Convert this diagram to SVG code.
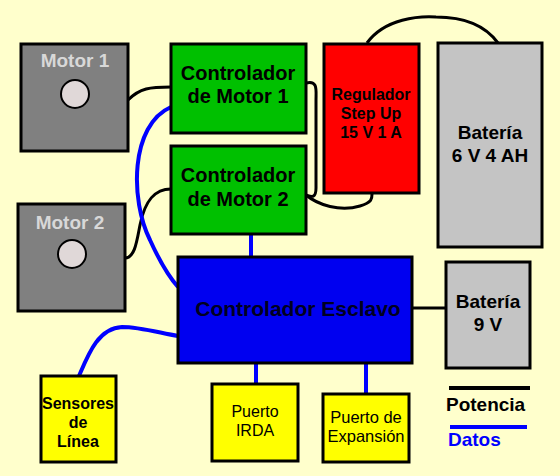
<svg xmlns="http://www.w3.org/2000/svg" width="560" height="476" viewBox="0 0 560 476">
<style>
.box{stroke:#000;stroke-width:3}
.t{font-family:"Liberation Sans",Arial,sans-serif;font-weight:bold;text-anchor:middle;fill:#000}
.r{font-weight:normal}
.pw{fill:none;stroke:#000;stroke-width:3}
.dt{fill:none;stroke:#0000FF;stroke-width:4}
</style>
<rect width="560" height="476" fill="#FFFFCC"/>
<g id="connectors">
<path class="pw" d="M128,100 C140,88 150,87 171,87"/>
<path class="pw" d="M125,258 C135,258 137,240 140,225 C145,200 155,189 171,189"/>
<path class="pw" d="M306,83 C318,80 316,90 316,100 L316,188 C316,200 310,196 306,195"/>
<path class="pw" d="M306,195 C318,205 340,212 360,206 C373,202 372,198 372,193"/>
<path class="pw" d="M367,43 C385,18 420,16 436,17 C465,17 485,25 498,43"/>
<path class="pw" d="M412,308 L446,308"/>
<path class="dt" d="M171,107 C130,125 130,200 150,240 C160,262 170,278 178,287"/>
<path class="dt" d="M79,376 C88,355 98,328 122,327 C140,327 160,333 178,336"/>
<path class="dt" d="M251,234 L251,257"/>
<path class="dt" d="M256,363 L256,384"/>
<path class="dt" d="M366,363 L366,394"/>
</g>
<g id="motor1">
<rect class="box" x="21" y="44" width="107" height="107" fill="#808080"/>
<text class="t" x="75" y="67" font-size="19" style="fill:#D8D8D8">Motor 1</text>
<circle cx="75" cy="94" r="14" fill="#E0D8D8" stroke="#000" stroke-width="2"/>
</g>
<g id="motor2">
<rect class="box" x="18" y="204" width="107" height="107" fill="#808080"/>
<text class="t" x="70" y="229" font-size="19" style="fill:#D8D8D8">Motor 2</text>
<circle cx="72" cy="254" r="14" fill="#E0D8D8" stroke="#000" stroke-width="2"/>
</g>
<g id="ctrl1">
<rect class="box" x="171" y="44" width="135" height="89" fill="#00C000"/>
<text class="t" x="238" y="80" font-size="20">Controlador</text>
<text class="t" x="238" y="103" font-size="20">de Motor 1</text>
</g>
<g id="ctrl2">
<rect class="box" x="171" y="146" width="135" height="88" fill="#00C000"/>
<text class="t" x="238" y="182" font-size="20">Controlador</text>
<text class="t" x="238" y="206" font-size="20">de Motor 2</text>
</g>
<g id="regulador">
<rect class="box" x="324" y="44" width="95" height="149" fill="#FF0000"/>
<text class="t" x="371" y="100" font-size="16">Regulador</text>
<text class="t" x="371" y="119" font-size="16">Step Up</text>
<text class="t" x="371" y="138" font-size="16">15 V 1 A</text>
</g>
<g id="bateria6">
<rect class="box" x="438" y="43" width="104" height="204" fill="#C4C4C4"/>
<text class="t" x="490" y="139" font-size="19">Batería</text>
<text class="t" x="490" y="162" font-size="19">6 V 4 AH</text>
</g>
<g id="esclavo">
<rect class="box" x="178" y="257" width="234" height="106" fill="#0000F0"/>
<text class="t" x="298" y="316" font-size="21" style="fill:#000020">Controlador Esclavo</text>
</g>
<g id="bateria9">
<rect class="box" x="446" y="262" width="84" height="106" fill="#C4C4C4"/>
<text class="t" x="488" y="308" font-size="19">Batería</text>
<text class="t" x="488" y="331" font-size="19">9 V</text>
</g>
<g id="sensores">
<rect class="box" x="41" y="376" width="75" height="86" fill="#FFFF00"/>
<text class="t" x="78" y="409" font-size="16">Sensores</text>
<text class="t" x="78" y="428" font-size="16">de</text>
<text class="t" x="78" y="447" font-size="16">Línea</text>
</g>
<g id="irda">
<rect class="box" x="212" y="384" width="86" height="77" fill="#FFFF00"/>
<text class="t r" x="255" y="417" font-size="16">Puerto</text>
<text class="t r" x="255" y="436" font-size="16">IRDA</text>
</g>
<g id="expansion">
<rect class="box" x="323" y="394" width="86" height="68" fill="#FFFF00"/>
<text class="t r" x="366" y="423" font-size="16.5">Puerto de</text>
<text class="t r" x="366" y="442" font-size="16.5">Expansión</text>
</g>
<g id="legend">
<line x1="449" y1="388" x2="530" y2="388" stroke="#000" stroke-width="4"/>
<text class="t" x="446" y="411" font-size="19" text-anchor="start" style="text-anchor:start">Potencia</text>
<line x1="450" y1="427" x2="527" y2="427" stroke="#0000FF" stroke-width="4"/>
<text class="t" x="448" y="446" font-size="19" style="text-anchor:start;fill:#0000FF">Datos</text>
</g>
</svg>
